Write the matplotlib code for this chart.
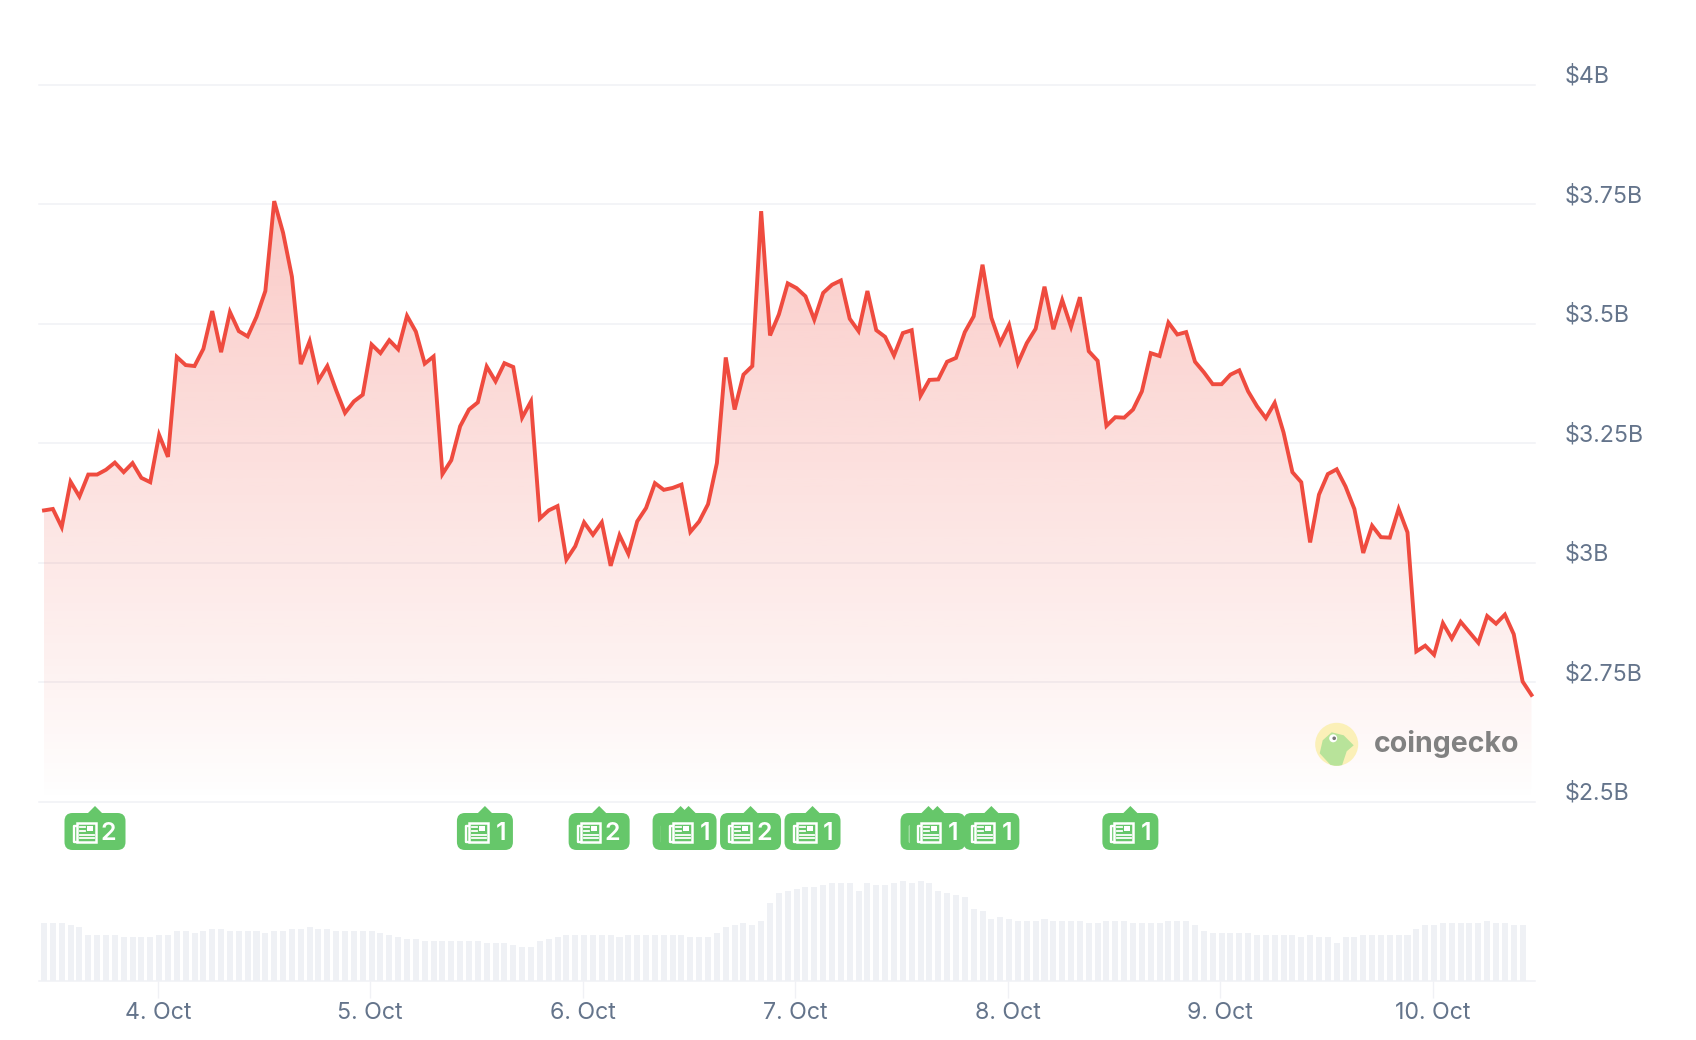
import matplotlib
matplotlib.use('Agg')
import matplotlib.pyplot as plt
import numpy as np
from matplotlib.patches import Circle, FancyBboxPatch, Polygon, Rectangle

# Figure size in pixels
W, H = 1696, 1040
plt.rcParams['font.family'] = ['Inter', 'DejaVu Sans']

# Market cap, hourly, in $B
price = [
    3.109, 3.112, 3.074, 3.169, 3.138, 3.184, 3.184, 3.194, 3.209, 3.189, 3.208, 3.177, 3.168,
    3.267, 3.221, 3.430, 3.413, 3.411, 3.447, 3.526, 3.440, 3.524, 3.484, 3.473, 3.514, 3.568,
    3.756, 3.690, 3.598, 3.415, 3.463, 3.381, 3.411, 3.360, 3.313, 3.337, 3.351, 3.456, 3.438,
    3.465, 3.446, 3.516, 3.483, 3.416, 3.431, 3.185, 3.214, 3.285, 3.320, 3.335, 3.410, 3.379,
    3.417, 3.409, 3.303, 3.337, 3.092, 3.109, 3.118, 3.006, 3.034, 3.084, 3.058, 3.084, 2.993,
    3.057, 3.018, 3.086, 3.114, 3.166, 3.152, 3.156, 3.163, 3.064, 3.086, 3.122, 3.208, 3.429,
    3.320, 3.393, 3.411, 3.735, 3.475, 3.519, 3.584, 3.574, 3.557, 3.508, 3.564, 3.581, 3.590,
    3.510, 3.484, 3.568, 3.486, 3.472, 3.433, 3.480, 3.486, 3.349, 3.382, 3.383, 3.420, 3.428,
    3.482, 3.515, 3.623, 3.512, 3.459, 3.497, 3.417, 3.459, 3.489, 3.577, 3.488, 3.549, 3.493,
    3.555, 3.442, 3.422, 3.286, 3.304, 3.303, 3.320, 3.358, 3.438, 3.432, 3.502, 3.477, 3.482,
    3.420, 3.398, 3.373, 3.373, 3.393, 3.402, 3.358, 3.327, 3.302, 3.334, 3.272, 3.189, 3.168,
    3.042, 3.142, 3.185, 3.195, 3.159, 3.112, 3.020, 3.077, 3.053, 3.052, 3.112, 3.063, 2.814,
    2.826, 2.807, 2.873, 2.841, 2.876, 2.854, 2.832, 2.888, 2.872, 2.891, 2.850, 2.751, 2.723,
]

# Volume bars, no axis in the original so the units are relative
volume = [
    58, 58, 58, 56, 54, 46, 46, 46, 46, 44, 44, 44, 44, 46, 46, 50, 50, 48, 50, 52, 52, 50, 50, 50,
    50, 48, 50, 50, 52, 52, 54, 52, 52, 50, 50, 50, 50, 50, 48, 46, 44, 42, 42, 40, 40, 40, 40, 40,
    40, 40, 38, 38, 38, 36, 34, 34, 40, 42, 44, 46, 46, 46, 46, 46, 46, 44, 46, 46, 46, 46, 46, 46,
    46, 44, 44, 44, 48, 54, 56, 58, 56, 60, 78, 88, 90, 92, 94, 94, 96, 98, 98, 98, 90, 98, 96, 96,
    98, 100, 98, 100, 98, 90, 88, 86, 84, 72, 70, 62, 64, 62, 60, 60, 60, 62, 60, 60, 60, 60, 58, 58,
    60, 60, 60, 58, 58, 58, 58, 60, 60, 60, 56, 50, 48, 48, 48, 48, 48, 46, 46, 46, 46, 46, 44, 46,
    44, 44, 38, 44, 44, 46, 46, 46, 46, 46, 46, 52, 56, 56, 58, 58, 58, 58, 58, 60, 58, 58, 56, 56,
]

y_ticks = [2.5, 2.75, 3, 3.25, 3.5, 3.75, 4]
y_labels = ['$2.5B', '$2.75B', '$3B', '$3.25B', '$3.5B', '$3.75B', '$4B']
x_ticks = [12.85, 36.85, 60.85, 84.85, 108.85, 132.85, 156.85]
x_labels = ['4. Oct', '5. Oct', '6. Oct', '7. Oct', '8. Oct', '9. Oct', '10. Oct']

# News markers: hour and number of stories
news_hours = [5.76, 49.8, 62.7, 71.9, 72.8, 79.8, 86.8, 99.9, 100.9, 107, 122.7]
news_counts = [2, 1, 2, 1, 1, 2, 1, 1, 1, 1, 1]

RED = '#ef4b3f'
GRID = '#f0f1f5'
BAR = '#eff1f5'
SLATE = '#64748b'
GREEN = '#66c76a'

fig = plt.figure(figsize=(W / 100, H / 100), dpi=100, facecolor='white')


def px_axes(left, top, right, bottom):
    return fig.add_axes([left / W, 1 - bottom / H, (right - left) / W, (bottom - top) / H])


hours = np.arange(len(price))
xlim = (-0.565, 168.4)

# Price chart
ax = px_axes(39, 84.5, 1535, 801.5)
ax.set_xlim(xlim)
ax.set_ylim(2.5, 4)
ax.set_facecolor('none')
for spine in ax.spines.values():
    spine.set_visible(False)
ax.set_xticks([])
ax.set_yticks(y_ticks)
ax.set_yticklabels([])
ax.tick_params(axis='y', length=0)
ax.grid(axis='y', color=GRID, linewidth=1.1, zorder=1)
for line in ax.get_ygridlines():
    line.set_clip_on(False)
ax.set_axisbelow(True)

# Gradient under the line
grad = np.zeros((256, 1, 4))
grad[..., :3] = matplotlib.colors.to_rgb(RED)
grad[..., 3] = np.linspace(0.29, 0.0, 256).reshape(-1, 1) ** 0.9
img = ax.imshow(grad, extent=(xlim[0], xlim[1], 2.5, 3.95), aspect='auto', zorder=2)
poly = ax.fill_between(hours, price, 2.5, color='none')
img.set_clip_path(poly.get_paths()[0], transform=ax.transData)
ax.set_xlim(xlim)
ax.set_ylim(2.5, 4)
ax.plot(hours, price, color=RED, linewidth=2.8, solid_joinstyle='miter', zorder=3)

for tick, label in zip(y_ticks, y_labels):
    ax.annotate(label, (1, tick), xycoords=('axes fraction', 'data'), xytext=(30, 8),
                textcoords='offset pixels', color=SLATE, fontsize=16.7, ha='left', va='center')

# Volume bars and date axis
vol = px_axes(39, 860, 1535, 981)
vol.set_xlim(xlim)
vol.set_ylim(0, 121)
vol.bar(np.arange(len(volume)), volume, width=0.68, color=BAR)
for name in ['top', 'left', 'right']:
    vol.spines[name].set_visible(False)
vol.spines['bottom'].set_color(GRID)
vol.spines['bottom'].set_linewidth(1.1)
vol.set_yticks([])
vol.set_xticks(x_ticks)
vol.set_xticklabels(x_labels, color=SLATE, fontsize=16.7)
vol.tick_params(axis='x', length=12, width=1, color=GRID, pad=3)

# Overlay in pixel coordinates for the news badges and the logo
over = px_axes(0, 0, W, H)
over.set_xlim(0, W)
over.set_ylim(H, 0)
over.axis('off')
over.patch.set_alpha(0)


def draw_badge(x, count, z):
    width = 61 if count == 2 else 56
    left = x - width / 2
    over.add_patch(Polygon([(x - 8, 814), (x, 806), (x + 8, 814)], color=GREEN, zorder=z, lw=0))
    over.add_patch(FancyBboxPatch((left, 813), width, 37, boxstyle='round,pad=0,rounding_size=8',
                                  facecolor=GREEN, edgecolor='none', zorder=z, lw=0))
    # newspaper icon
    ix = left + 8
    over.plot([ix + 4, ix + 1, ix + 1, ix + 4], [826, 826, 842, 842], color='white', lw=1.7, zorder=z)
    over.add_patch(Rectangle((ix + 4, 823), 19, 19, facecolor='none', edgecolor='white', lw=1.8, zorder=z))
    over.add_patch(Rectangle((ix + 14, 826), 6, 5, facecolor='white', edgecolor='none', zorder=z))
    for yy in [827, 831, 835, 838]:
        x1 = ix + 12 if yy < 832 else ix + 21
        over.plot([ix + 7, x1], [yy, yy], color='white', lw=1.3, zorder=z)
    over.text(left + 44, 833.5, str(count), color='white', fontsize=18, fontweight='semibold',
              ha='center', va='center', zorder=z)


to_px = ax.transData.transform
for n, (hour, count) in enumerate(zip(news_hours, news_counts)):
    x_px = to_px((hour, 3))[0]
    draw_badge(x_px, count, 10 + n)

# CoinGecko mark
cx, cy = 1336.7, 744.3
disc = Circle((cx, cy), 21.5, facecolor='#fbf0b8', edgecolor='none', zorder=5)
over.add_patch(disc)
blob = Polygon([(cx - 5, cy + 22), (cx - 17, cy + 9), (cx - 14, cy - 4), (cx - 5, cy - 12), (cx + 7, cy - 9),
                (cx + 17, cy + 1), (cx + 10, cy + 7), (cx + 5, cy + 22)], facecolor='#b8e39a', edgecolor='none', zorder=6)
over.add_patch(blob)
blob.set_clip_path(disc)
over.add_patch(Circle((cx - 3.5, cy - 6), 4, facecolor='white', edgecolor='none', zorder=7))
over.add_patch(Circle((cx - 2.5, cy - 6), 1.8, facecolor='#777777', edgecolor='none', zorder=8))
over.text(1374, 744, 'coingecko', color='#818181', fontsize=20.5, fontweight='bold', family='Inter',
          ha='left', va='center', zorder=6)

fig.savefig('out.png', dpi=100)
